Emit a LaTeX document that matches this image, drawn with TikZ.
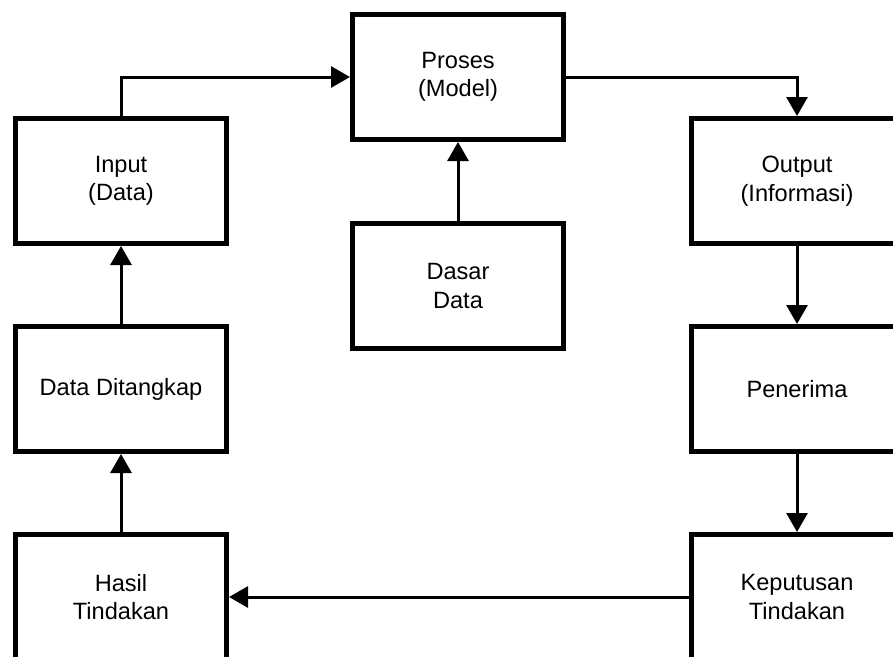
\documentclass[tikz,border=0pt]{standalone}
\usepackage{fontspec}
\setmainfont{Liberation Sans}
\usetikzlibrary{arrows.meta}
\begin{document}
\begin{tikzpicture}[x=1pt,y=-1pt,
  box/.style={draw=black,line width=5pt,fill=white,minimum width=211pt,minimum height=125pt,
    inner sep=0pt,align=center,font=\fontsize{23.6pt}{28.5pt}\selectfont},
  conn/.style={line width=3pt,-{Triangle[length=19pt,width=21pt]}}]
\useasboundingbox (0,0) rectangle (893,656);
\clip (0,0) rectangle (893,656);
\node[box] (input) at (121,181) {Input\\(Data)};
\node[box] (tangkap) at (121,389) {Data Ditangkap};
\node[box] (hasil) at (121,597) {Hasil\\Tindakan};
\node[box] (proses) at (458,77) {Proses\\(Model)};
\node[box] (dasar) at (458,286) {Dasar\\Data};
\node[box] (output) at (797,181) {Output\\(Informasi)};
\node[box] (penerima) at (797,389) {Penerima};
\node[box] (keputusan) at (797,597) {Keputusan\\Tindakan};
\draw[conn] (input.north) |- (proses.west);
\draw[conn] (proses.east) -| (output.north);
\draw[conn] (dasar.north) -- (proses.south);
\draw[conn] (output.south) -- (penerima.north);
\draw[conn] (penerima.south) -- (keputusan.north);
\draw[conn] (keputusan.west) -- (hasil.east);
\draw[conn] (hasil.north) -- (tangkap.south);
\draw[conn] (tangkap.north) -- (input.south);
\end{tikzpicture}
\end{document}
